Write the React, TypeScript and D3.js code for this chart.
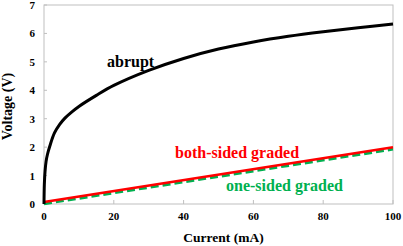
import * as d3 from 'd3';

// values
const abruptCurrent = [0, 0.1, 0.3, 0.6, 1, 1.7, 3, 4.5, 6, 8, 10, 15, 20, 30, 40, 50, 60, 70, 80, 90, 100];
const abruptVoltage = [0, 0.7, 1.15, 1.5, 1.75, 2.05, 2.5, 2.8, 3.02, 3.24, 3.43, 3.82, 4.17, 4.7, 5.12, 5.45, 5.7, 5.9, 6.06, 6.2, 6.33];
const bothCurrent = [0, 100];
const bothVoltage = [0.07, 2.0];
const oneCurrent = [0, 100];
const oneVoltage = [0.01, 1.93];
const xTicks = [0, 20, 40, 60, 80, 100];
const yTicks = [0, 1, 2, 3, 4, 5, 6, 7];

type Pt = [number, number];
const zip = (xs: number[], ys: number[]): Pt[] => xs.map((x, i) => [x, ys[i]]);

const FONT = 'Liberation Serif';
const AXIS = '#bfbfbf';

export default function App() {
  const x = d3.scaleLinear().domain([0, 100]).range([44, 393]);
  const y = d3.scaleLinear().domain([0, 7]).range([204, 5]);

  const line = d3.line<Pt>()
    .x((d) => x(d[0]))
    .y((d) => y(d[1]))
    .curve(d3.curveCatmullRom.alpha(0.5));

  const bold = (size: number) => ({ fontFamily: FONT, fontWeight: 'bold' as const, fontSize: size });

  return (
    <svg width={403} height={246} style={{ position: 'absolute', left: 0, top: 0, background: '#fff' }}>
      {/* frame */}
      <rect
        x={x(0)}
        y={y(7)}
        width={x(100) - x(0)}
        height={y(0) - y(7)}
        fill="none"
        stroke={AXIS}
      />

      {/* x ticks */}
      {xTicks.map((t) => (
        <g key={'x' + t}>
          <line x1={x(t)} x2={x(t)} y1={y(0)} y2={y(0) - 4} stroke={AXIS} />
          <text x={x(t)} y={y(0) + 16} textAnchor="middle" style={bold(11)}>
            {t}
          </text>
        </g>
      ))}

      {/* y ticks */}
      {yTicks.map((t) => (
        <g key={'y' + t}>
          <line x1={x(0)} x2={x(0) + 3} y1={y(t)} y2={y(t)} stroke={AXIS} />
          <text x={x(0) - 9} y={y(t) + 4} textAnchor="end" style={bold(11)}>
            {t}
          </text>
        </g>
      ))}

      <path
        d={line(zip(oneCurrent, oneVoltage)) || ''}
        fill="none"
        stroke="#00b050"
        strokeWidth={3}
        strokeDasharray="8,4"
      />
      <path d={line(zip(bothCurrent, bothVoltage)) || ''} fill="none" stroke="#ff0000" strokeWidth={2.5} />
      <path d={line(zip(abruptCurrent, abruptVoltage)) || ''} fill="none" stroke="#000" strokeWidth={3} />

      {/* series labels */}
      <text x={107} y={67} style={bold(16)} fill="#000">abrupt</text>
      <text x={175} y={158} style={bold(16)} fill="#ff0000">both-sided graded</text>
      <text x={226} y={191} style={bold(16)} fill="#00b050">one-sided graded</text>

      {/* axis titles */}
      <text x={(x(0) + x(100)) / 2 + 5} y={242} textAnchor="middle" style={bold(13.5)}>
        Current (mA)
      </text>
      <text
        transform={`translate(12,${(y(0) + y(7)) / 2 + 2}) rotate(-90)`}
        textAnchor="middle"
        style={bold(14)}
      >
        Voltage (V)
      </text>
    </svg>
  );
}
